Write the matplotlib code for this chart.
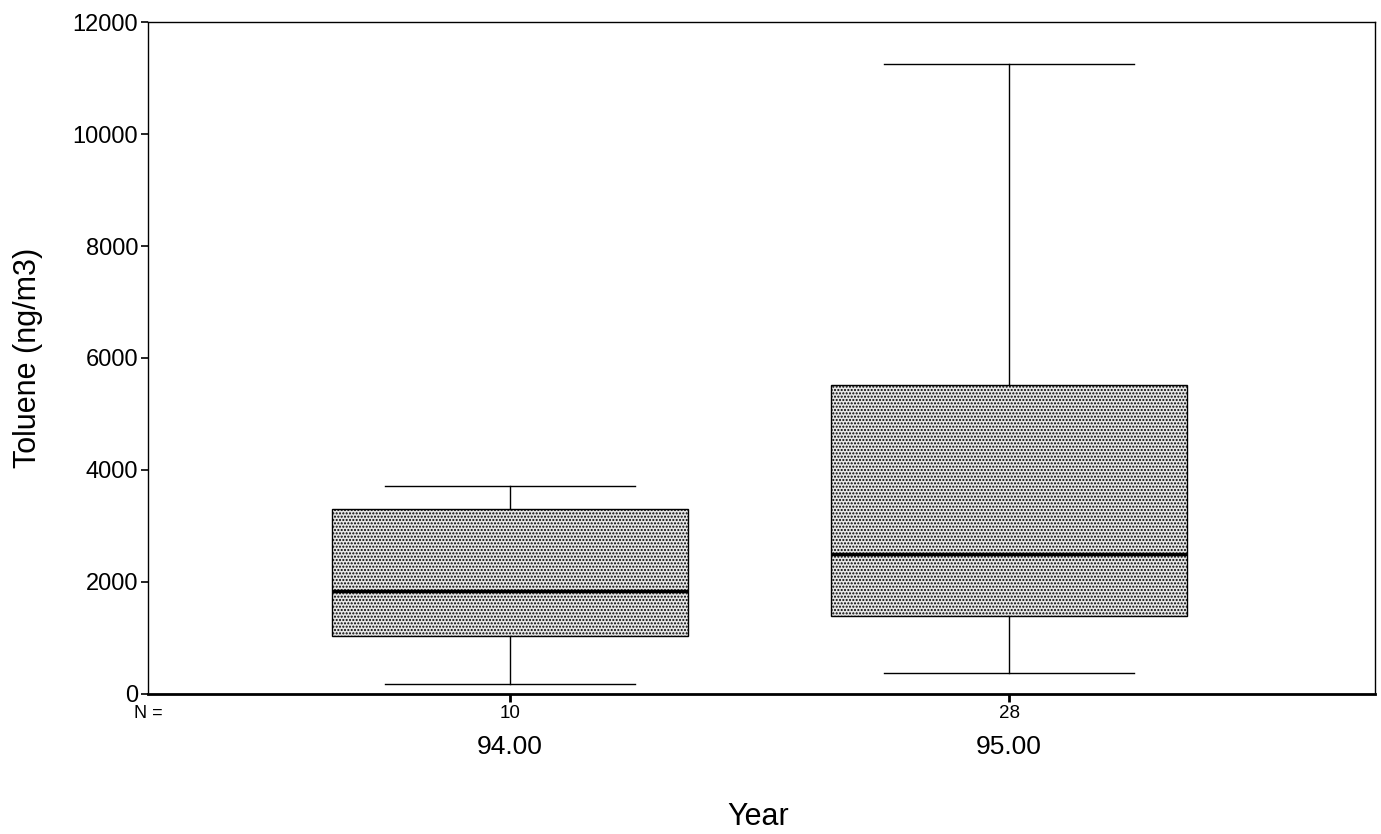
import matplotlib
matplotlib.use("Agg")
import matplotlib.pyplot as plt

# data
years = ["94.00", "95.00"]
n_cases = [10, 28]
whisker_low = [180, 375]
q1 = [1036, 1393]
median = [1839, 2500]
q3 = [3304, 5518]
whisker_high = [3714, 11250]

plt.rcParams['font.family'] = ['Liberation Sans', 'DejaVu Sans']
plt.rcParams['hatch.color'] = '#606060'
plt.rcParams['hatch.linewidth'] = 1.0

fig = plt.figure(figsize=(13.81, 8.34), dpi=100)
ax = fig.add_axes([0.1072, 0.1679, 0.8885, 0.8057])

stats = []
for i in range(len(years)):
    stats.append(dict(med=median[i], q1=q1[i], q3=q3[i],
                      whislo=whisker_low[i], whishi=whisker_high[i],
                      fliers=[]))

positions = [1, 2]
bp = ax.bxp(stats, positions=positions, widths=0.713, capwidths=0.5,
            patch_artist=True, showfliers=False,
            boxprops=dict(facecolor='#e6e6e6', edgecolor='black',
                          linewidth=1.0, hatch='.....'),
            medianprops=dict(color='black', linewidth=2.5),
            whiskerprops=dict(color='black', linewidth=1.0),
            capprops=dict(color='black', linewidth=1.0))

ax.set_xlim(0.275, 2.733)
ax.set_ylim(0, 12000)
ax.set_yticks(range(0, 12001, 2000))
ax.tick_params(axis='y', labelsize=17, length=5, width=1.2, direction='out', pad=2)
ax.tick_params(axis='x', length=6, width=2, direction='out')
ax.set_xticks(positions, labels=[])

xt = ax.get_xaxis_transform()
for p, n, yr in zip(positions, n_cases, years):
    ax.text(p, -0.0298, str(n), transform=xt,
            ha='center', va='center', fontsize=13.5)
    ax.text(p, -0.0789, yr, transform=xt,
            ha='center', va='center', fontsize=19)
ax.text(0.0122, -0.0298, "N =", transform=ax.transAxes,
        ha='right', va='center', fontsize=13)

for s in ax.spines.values():
    s.set_linewidth(1.0)
ax.spines['bottom'].set_linewidth(2)

ax.set_ylabel("Toluene (ng/m3)", fontsize=22)
ax.yaxis.set_label_coords(-0.0856, 0.5)
fig.text(0.549, 1 - 817 / 834, "Year", ha='center', va='center', fontsize=22)

fig.savefig("out.png", dpi=100)
